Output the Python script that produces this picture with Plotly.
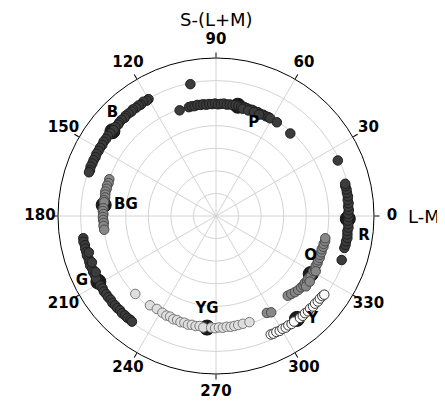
import plotly.graph_objects as go

# ---- data (angle in degrees, radius in grid-ring units) ----
b_theta = [120, 121, 122.5, 124, 125, 126.5, 128, 129, 130.5, 132, 133, 134.5, 136, 137, 138.5,
           140, 142, 143.5, 145, 146.5, 148, 149.5, 151, 152.5, 154, 155.5, 157, 158.5, 160, 161]
b_r = [5.98, 5.96, 6.0, 5.95, 5.98, 5.96, 5.99, 5.95, 5.97, 5.98, 5.94, 5.97, 5.96, 5.93, 5.95,
       5.92, 5.94, 5.96, 5.95, 5.97, 5.94, 5.96, 5.95, 5.97, 5.94, 5.96, 5.95, 5.97, 5.94, 5.95]

p_theta = [109, 101, 104, 102.5, 101, 99.5, 98, 96.5, 95, 93.5, 92, 90.5, 89, 87.5, 86, 84.5, 83,
           81.5, 80, 78.5, 77, 75.5, 74, 72.5, 71, 69.5, 68, 66.5, 65, 63.5, 62, 61, 76, 73, 70, 67, 57, 48]
p_r = [4.95, 5.95, 4.97, 4.98, 4.96, 4.99, 4.97, 4.98, 4.95, 4.97, 4.96, 4.98, 4.95, 4.97, 4.99, 4.96, 4.98,
       4.97, 4.99, 4.98, 4.96, 4.99, 4.97, 4.95, 4.97, 4.94, 4.96, 4.93, 4.95, 4.94, 4.96, 4.95, 4.9, 4.89, 4.9, 4.88, 4.95, 4.92]

r_theta = [-14, -12.5, -11, -9.5, -8, -6.5, -5, -3.5, -2, -0.5, 1, 2.5, 4, 5.5, 7, 8.5, 10, 11.5, 13, 14,
           24.5, -19.3]
r_r = [5.86, 5.88, 5.87, 5.9, 5.88, 5.86, 5.89, 5.87, 5.85, 5.88, 5.86, 5.89, 5.87, 5.9, 5.88, 5.91, 5.89,
       5.9, 5.88, 5.9, 5.93, 5.9]

bg_theta = [161, 163, 164.5, 166, 167.5, 169, 170.5, 172, 173, 176, 177.5, 179, 180.5, 182, 183.5, 185, 187]
bg_r = [5.0, 4.98, 5.01, 4.99, 5.02, 5.0, 4.98, 5.01, 4.99, 5.0, 5.02, 4.99, 5.01, 5.0, 4.98, 5.0, 4.99]

g_theta = [189.5, 191, 192.5, 194, 195.5, 197, 198.5, 200, 201.5, 203, 204.5, 206, 207.5, 211, 212.5,
           214, 215.5, 217, 218.5, 220, 221.5, 223, 224.5, 226, 227.5, 229, 230.5, 231.5, 196, 200.5, 205]
g_r = [5.96, 5.98, 5.95, 5.97, 5.96, 5.98, 5.95, 5.97, 5.99, 5.96, 5.98, 5.97, 5.99, 5.98, 5.96,
       5.99, 5.97, 5.98, 5.96, 5.99, 5.97, 5.98, 5.96, 5.99, 5.97, 5.98, 5.96, 5.98, 5.86, 5.87, 5.88]

yg_theta = [224, 233.5, 237.5, 241, 243.5, 245.5, 247.5, 249.5, 251.5, 253.5, 255.5, 257.5, 259.5, 261.5,
            263.5, 267.5, 269.5, 271.5, 273.5, 275.5, 277.5, 279.5, 281.5, 284, 287.5]
yg_r = [4.97, 4.92, 4.88, 4.9, 4.93, 4.9, 4.95, 4.92, 4.96, 4.93, 4.97, 4.94, 4.96, 4.93,
        4.97, 4.95, 4.97, 4.94, 4.96, 4.93, 4.95, 4.94, 4.93, 4.92, 4.93]

o_theta = [297.7, 299.8, 312, 314, 316, 318, 320, 321.5, 323, 324.5, 326, 327.5, 330.5, 332, 333.5,
           335, 336.5, 338, 339.5, 341, 342.5, 344, 345.5, 347, 348.5, 322, 325, 331]
o_r = [4.85, 4.92, 4.75, 4.8, 4.86, 4.9, 4.92, 4.95, 4.93, 4.96, 4.94, 4.97, 4.95, 4.97, 4.94,
       4.96, 4.93, 4.95, 4.92, 4.94, 4.91, 4.95, 4.93, 4.96, 4.94, 5.06, 5.07, 5.05]

y_theta = [294.8, 296, 297.5, 299, 300.5, 302, 303.5, 305, 306.5, 309.5, 311, 312.5, 314, 315.5,
           317, 318.5, 320, 321.5, 323, 324]
y_r = [5.78, 5.8, 5.79, 5.82, 5.8, 5.83, 5.81, 5.84, 5.82, 5.85, 5.86, 5.84, 5.87, 5.85,
       5.88, 5.86, 5.89, 5.88, 5.9, 5.93]

labels = ["B", "P", "BG", "G", "YG", "Y", "O", "R"]
label_theta = [140.7, 78.8, 174.4, 209.2, 265.4, 308.2, 328.5, 358.8]
label_r = [5.93, 4.98, 5.0, 5.97, 4.96, 5.8, 4.92, 5.84]
label_pos = ["top center", "bottom right", "middle right", "middle left",
             "top center", "middle right", "top center", "bottom right"]

tick_angles = [0, 30, 60, 90, 120, 150, 180, 210, 240, 270, 300, 330]
R_MAX = 7
TICK_LABEL_R = 7.8

# ---- styling ----
FONT = "DejaVu Sans, Verdana, sans-serif"
DARK = dict(color="#3c3c3c", line=dict(color="#1e1e1e", width=1))
MID = dict(color="#878787", line=dict(color="#4a4a4a", width=1))
LIGHT = dict(color="#dedede", line=dict(color="#7a7a7a", width=1))
WHITE = dict(color="#fbfbfb", line=dict(color="#3a3a3a", width=1))
SIZE = 9.5

# figure geometry (page body adds 8px margin, so figure is 437x397)
W, H = 437, 397
CX, CY = 208, 208          # centre in figure pixels
RAD = 158                  # pixel radius of r = R_MAX
RAD2 = RAD * TICK_LABEL_R / R_MAX


def dom(cx, cy, rad):
    return dict(x=[(cx - rad) / W, (cx + rad) / W], y=[(H - cy - rad) / H, (H - cy + rad) / H])


fig = go.Figure()

# big labelled markers (drawn first, cluster points overlap them)
fig.add_trace(go.Scatterpolar(theta=label_theta, r=label_r, mode="markers",
                              marker=dict(size=15, color="#1c1c1c", line=dict(color="#111", width=1)),
                              showlegend=False, hoverinfo="skip"))

for th, rr, st in [(b_theta, b_r, DARK), (p_theta, p_r, DARK), (r_theta, r_r, DARK),
                   (g_theta, g_r, DARK), (bg_theta, bg_r, MID), (o_theta, o_r, MID),
                   (yg_theta, yg_r, LIGHT), (y_theta, y_r, WHITE)]:
    fig.add_trace(go.Scatterpolar(theta=th, r=rr, mode="markers",
                                  marker=dict(size=SIZE, **st),
                                  showlegend=False, hoverinfo="skip"))

# cluster labels, offset by an invisible marker of the big-marker size
fig.add_trace(go.Scatterpolar(theta=label_theta, r=label_r, mode="markers+text",
                              marker=dict(size=15, color="rgba(0,0,0,0)"),
                              text=["<b>%s</b>" % s for s in labels],
                              textposition=label_pos,
                              textfont=dict(family=FONT, size=15, color="black"),
                              showlegend=False, hoverinfo="skip"))

# angular tick labels on an invisible, larger concentric polar subplot
fig.add_trace(go.Scatterpolar(theta=tick_angles, r=[TICK_LABEL_R] * len(tick_angles), mode="text",
                              text=["<b>%d</b>" % a for a in tick_angles],
                              textposition="middle center", cliponaxis=False, subplot="polar2",
                              textfont=dict(family=FONT, size=15, color="black"),
                              showlegend=False, hoverinfo="skip"))

fig.update_layout(
    width=W, height=H,
    margin=dict(l=0, r=0, t=0, b=0),
    paper_bgcolor="white",
    font=dict(family=FONT, color="black"),
    polar=dict(
        domain=dom(CX, CY, RAD),
        bgcolor="white",
        radialaxis=dict(range=[0, R_MAX], tickvals=[1, 2, 3, 4, 5, 6, 7], showticklabels=False, ticks="",
                        showline=False, gridcolor="#d4d4d4", gridwidth=1),
        angularaxis=dict(rotation=0, direction="counterclockwise",
                         tickvals=tick_angles, showticklabels=False,
                         ticks="outside", ticklen=5, tickcolor="black",
                         showline=True, linecolor="black", linewidth=1,
                         gridcolor="#d4d4d4", gridwidth=1),
    ),
    polar2=dict(
        domain=dom(CX, CY, RAD2),
        bgcolor="rgba(0,0,0,0)",
        radialaxis=dict(range=[0, TICK_LABEL_R], visible=False),
        angularaxis=dict(rotation=0, direction="counterclockwise", visible=False),
    ),
    annotations=[
        dict(text="S-(L+M)", x=CX / W, y=(H - 11.5) / H, xref="paper", yref="paper", showarrow=False,
             xanchor="center", yanchor="middle", font=dict(family=FONT, size=18, color="black")),
        dict(text="L-M", x=398 / W, y=(H - CY) / H, xref="paper", yref="paper", showarrow=False,
             xanchor="left", yanchor="middle", font=dict(family=FONT, size=18, color="black")),
    ],
)

fig.write_html("out.html")
